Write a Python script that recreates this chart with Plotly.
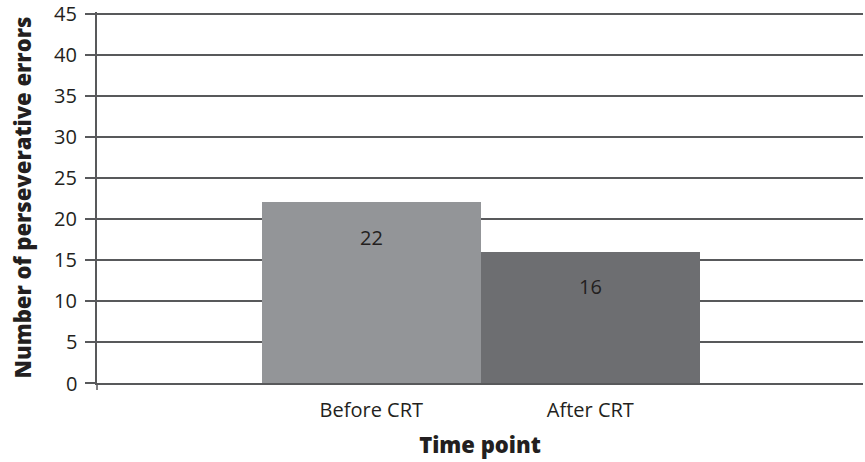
import plotly.graph_objects as go

# Perseverative errors before and after cognitive remediation therapy
time_points = ["Before CRT", "After CRT"]
errors = [22, 16]
bar_colors = ["#939598", "#6d6e71"]
y_ticks = [0, 5, 10, 15, 20, 25, 30, 35, 40, 45]

TEXT = "#231f20"
GRID = "#58595b"
FONT = "Open Sans"

fig = go.Figure()
fig.add_trace(go.Bar(
    x=time_points,
    y=errors,
    marker=dict(color=bar_colors, line=dict(width=0)),
    width=1.0,
    showlegend=False,
    hoverinfo="skip",
))

# value labels placed just under each bar top
for tp, v in zip(time_points, errors):
    fig.add_annotation(
        x=tp, y=v, text=str(v), showarrow=False,
        yanchor="middle", yshift=-35,
        font=dict(family=FONT, size=20, color=TEXT),
    )

# y tick labels as annotations so the top one is not dropped at the edge
for t in y_ticks:
    fig.add_annotation(
        xref="paper", x=0, y=t, yref="y", text=str(t), showarrow=False,
        xanchor="right", yanchor="middle", xshift=-18,
        font=dict(family=FONT, size=20, color=TEXT),
    )

# short tick below the origin on the vertical axis
fig.add_shape(type="line", xref="paper", yref="paper",
              x0=0, x1=0, y0=0, y1=-0.019,
              line=dict(color=GRID, width=1.5))

fig.update_layout(
    width=865, height=462,
    margin=dict(l=97, r=2, t=11.8, b=79),
    paper_bgcolor="white",
    plot_bgcolor="white",
    bargap=0,
    font=dict(family=FONT, color=TEXT, size=20),
    xaxis=dict(
        type="category",
        range=[-1.2525, 2.245],
        showgrid=False,
        showline=True, linecolor=GRID, linewidth=1.5,
        ticks="", ticklabelstandoff=8,
        tickfont=dict(family=FONT, size=20, color=TEXT),
        title=dict(text="Time point", standoff=16,
                   font=dict(family=FONT, size=22, color=TEXT, weight=800)),
        fixedrange=True,
    ),
    yaxis=dict(
        range=[0, 45.2],
        tickvals=y_ticks,
        showticklabels=False,
        showgrid=True, gridcolor=GRID, gridwidth=1.5,
        showline=True, linecolor=GRID, linewidth=1.5,
        zeroline=False,
        ticks="outside", ticklen=10, tickcolor=GRID, tickwidth=1.5,
        title=dict(text="Number of perseverative errors", standoff=48,
                   font=dict(family=FONT, size=22, color=TEXT, weight=800)),
        fixedrange=True,
    ),
)

fig.write_html("out.html")
